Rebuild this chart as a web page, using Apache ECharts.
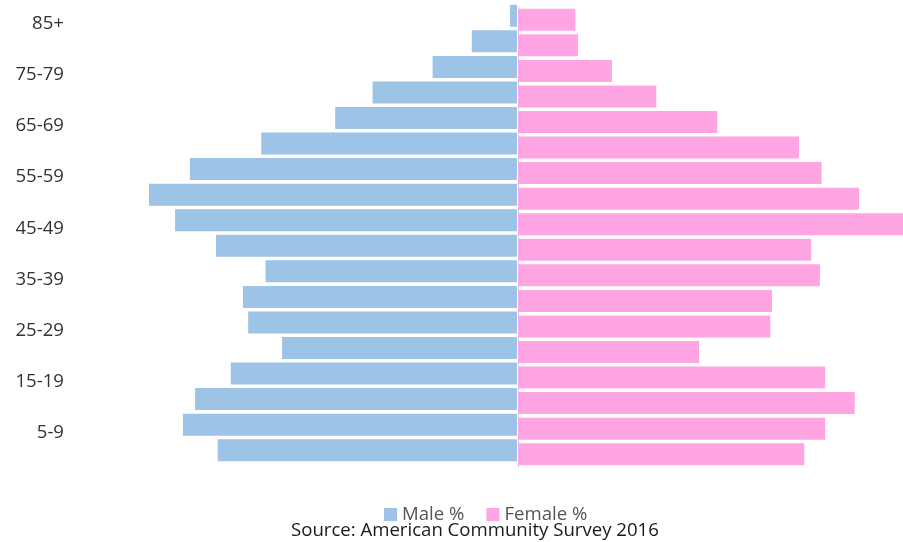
<!DOCTYPE html>
<html>
<head>
<meta charset="utf-8">
<script src="https://cdn.jsdelivr.net/npm/echarts@6/dist/echarts.min.js"></script>
<style>
  html, body { margin: 0; padding: 0; background: #fff; }
  #main { width: 903px; height: 542px; }
</style>
</head>
<body>
<div id="main"></div>
<script>
// age groups, bottom to top
var ageGroups = ['0-4', '5-9', '10-14', '15-19', '20-24', '25-29', '30-34', '35-39', '40-44',
  '45-49', '50-54', '55-59', '60-64', '65-69', '70-74', '75-79', '80-84', '85+'];
var malePct = [3.44, 3.84, 3.70, 3.29, 2.70, 3.09, 3.15, 2.89, 3.46,
  3.93, 4.23, 3.76, 2.94, 2.09, 1.66, 0.97, 0.52, 0.08];
var femalePct = [3.29, 3.53, 3.87, 3.53, 2.08, 2.90, 2.92, 3.47, 3.37,
  4.44, 3.92, 3.49, 3.23, 2.29, 1.59, 1.08, 0.69, 0.66];
var sourceText = 'Source: American Community Survey 2016';

var chart = echarts.init(document.getElementById('main'));

var fontFam = '"Open Sans", sans-serif';

var option = {
  animation: false,
  textStyle: { fontFamily: fontFam },
  title: {
    text: sourceText,
    left: 286,
    top: 516,
    textStyle: { fontSize: 18.6, fontWeight: 'normal', color: '#1a1a1a', fontFamily: fontFam }
  },
  legend: {
    left: 379,
    top: 500,
    itemWidth: 13,
    itemHeight: 13,
    itemGap: 22,
    icon: 'rect',
    textStyle: { fontSize: 18.6, color: '#555', fontFamily: fontFam },
    data: ['Male %', 'Female %']
  },
  grid: [
    { left: 125.5, width: 391.5, top: 3, height: 460 },
    { left: 518, right: 0, top: 7, height: 460 },
    // only carries the age labels
    { left: 518, right: 0, top: 11, height: 460 }
  ],
  xAxis: [
    { gridIndex: 0, type: 'value', min: 0, max: 4.5, inverse: true, show: false },
    { gridIndex: 1, type: 'value', min: 0, max: 4.425, show: false },
    { gridIndex: 2, type: 'value', min: 0, max: 1, show: false }
  ],
  yAxis: [
    { gridIndex: 0, type: 'category', data: ageGroups, show: false },
    {
      gridIndex: 1,
      type: 'category',
      data: ageGroups,
      axisLine: { show: true, lineStyle: { color: '#d0d0d0', width: 1 } },
      axisTick: { show: false },
      axisLabel: { show: false }
    },
    {
      gridIndex: 2,
      type: 'category',
      data: ageGroups,
      axisLine: { show: false },
      axisTick: { show: false },
      axisLabel: {
        margin: 454,
        fontSize: 18.6,
        color: '#333',
        fontFamily: fontFam,
        interval: function (i) { return i % 2 === 1; }
      }
    }
  ],
  series: [
    {
      name: 'Male %',
      type: 'bar',
      xAxisIndex: 0,
      yAxisIndex: 0,
      barCategoryGap: '14%',
      itemStyle: { color: '#9dc3e6' },
      data: malePct
    },
    {
      name: 'Female %',
      type: 'bar',
      xAxisIndex: 1,
      yAxisIndex: 1,
      barCategoryGap: '14%',
      itemStyle: { color: '#ffa5e3' },
      data: femalePct
    }
  ]
};

chart.setOption(option);
</script>
</body>
</html>
